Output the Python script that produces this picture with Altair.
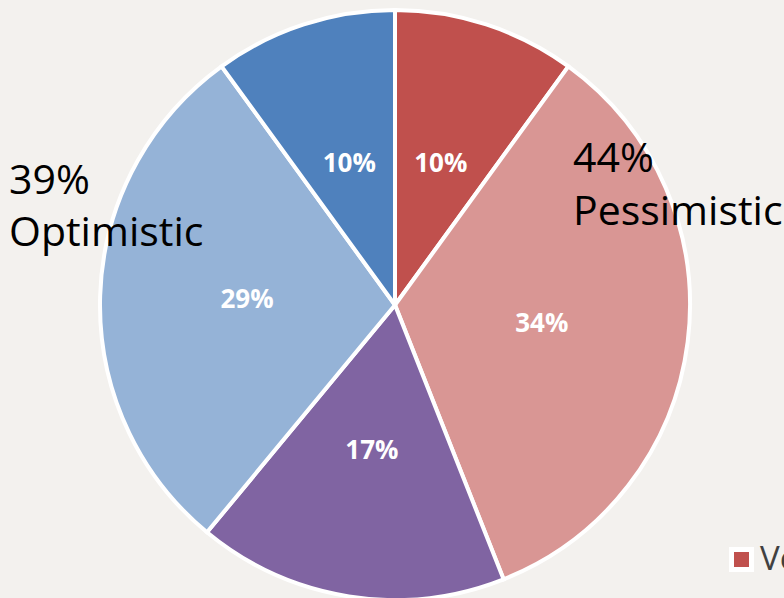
import altair as alt
import pandas as pd

categories = ["Very pessimistic", "Somewhat pessimistic", "Neutral", "Somewhat optimistic", "Very optimistic"]
values = [10, 34, 17, 29, 10]
colors = ["#C0504D", "#D99694", "#8064A2", "#95B3D7", "#4F81BD"]
labels = ["10%", "34%", "17%", "29%", "10%"]

ann_text = ["39%", "Optimistic", "44%", "Pessimistic"]

df = pd.DataFrame({"cat": categories, "val": values, "lab": labels, "idx": list(range(len(categories)))})

CX, CY = 395, 305

base = alt.Chart(df).encode(
    theta=alt.Theta("val:Q", stack=True),
    order=alt.Order("idx:Q"),
    color=alt.Color(
        "cat:N",
        scale=alt.Scale(domain=categories, range=colors),
        legend=alt.Legend(
            title=None, orient="none", legendX=725, legendY=543,
            symbolType="square", symbolSize=400, symbolStrokeWidth=5,
            symbolStrokeColor="white", symbolOpacity=1,
            labelFontSize=33, labelFont="Open Sans", labelColor="#404040",
            labelOffset=2, rowPadding=14, labelLimit=500,
        ),
    ),
)

arcs = base.mark_arc(outerRadius=295, stroke="white", strokeWidth=4).encode(
    x=alt.value(CX), y=alt.value(CY)
)

pct = base.mark_text(
    radius=148, font="Open Sans", fontWeight="bold", fontSize=26, color="white"
).encode(
    x=alt.value(CX), y=alt.value(CY), text="lab:N",
    color=alt.value("white"),
)

tstyle = dict(font="Open Sans", fontSize=41, color="black", align="left", baseline="alphabetic")
a1 = alt.Chart(pd.DataFrame({"t": [ann_text[0]]})).mark_text(**tstyle).encode(text="t:N", x=alt.value(9), y=alt.value(194))
a2 = alt.Chart(pd.DataFrame({"t": [ann_text[1]]})).mark_text(**tstyle).encode(text="t:N", x=alt.value(9), y=alt.value(246))
a3 = alt.Chart(pd.DataFrame({"t": [ann_text[2]]})).mark_text(**tstyle).encode(text="t:N", x=alt.value(573), y=alt.value(172))
a4 = alt.Chart(pd.DataFrame({"t": [ann_text[3]]})).mark_text(**tstyle).encode(text="t:N", x=alt.value(573), y=alt.value(225))

chart = alt.layer(arcs, pct, a1, a2, a3, a4).properties(
    width=784, height=598, padding=0, autosize=alt.AutoSizeParams(type="none"),
    background="#F3F1EE",
).configure_view(stroke=None)

chart.save("out.html", embed_options={"renderer": "svg", "actions": False})
